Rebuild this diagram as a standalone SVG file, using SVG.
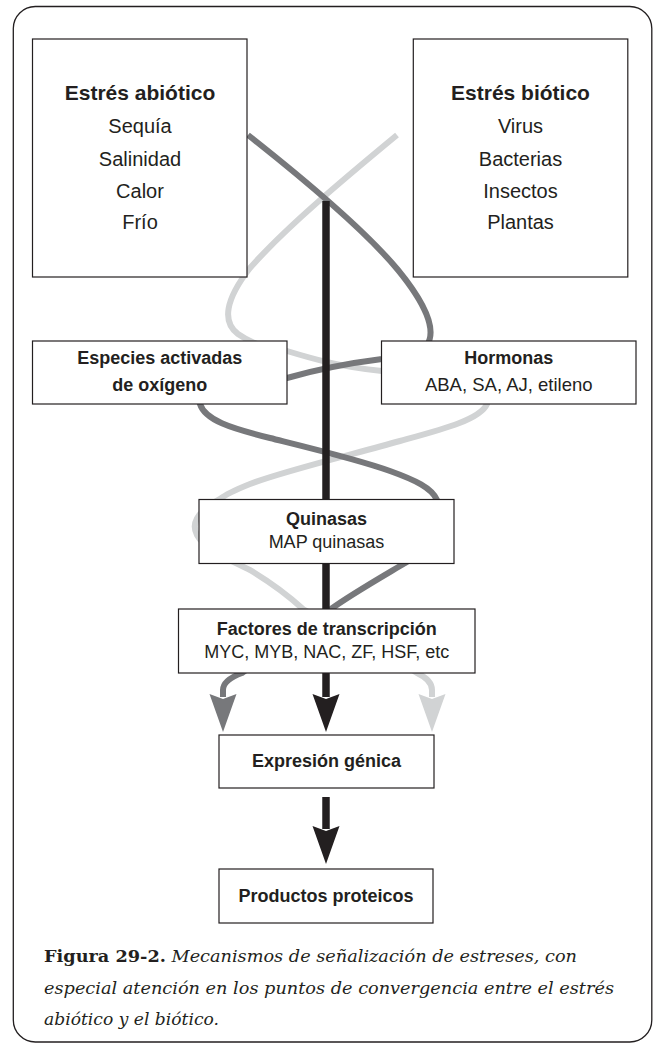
<svg xmlns="http://www.w3.org/2000/svg" width="654" height="1046" viewBox="0 0 654 1046">
  <style>
    .frame { fill: #ffffff; stroke: #231f20; stroke-width: 1.3; }
    .box { fill: #ffffff; stroke: #231f20; stroke-width: 1.2; }
    .t { font-family: "Liberation Sans", Arial, sans-serif; fill: #231f20; text-anchor: middle; }
    .b { font-weight: bold; }
    .abio { fill: none; stroke: #77787b; stroke-width: 6; }
    .bio { fill: none; stroke: #d1d3d4; stroke-width: 6; }
    .core { fill: none; stroke: #231f20; stroke-width: 7.5; }
    .cap { font-family: "DejaVu Serif", "Liberation Serif", serif; fill: #231f20; font-size: 17px; }
  </style>

  <!-- outer rounded frame -->
  <rect class="frame" x="13.3" y="6.5" width="638.5" height="1035.5" rx="22" ry="22"/>

  <!-- signalling paths (drawn beneath the boxes) -->
  <g id="connectors">
    <!-- biotic pathway, light grey -->
    <path id="path-biotic" class="bio" d="M397,135 C345,178 285,228 250,268 C225,300 222,322 238,334 C255,346 270,348 287,351 C310,358 340,367 382,371 C430,376 490,385 487,404 C480,420 440,430 400,441 C350,455 280,472 250,484 C235,490 225,495 220,499 C200,510 190,522 197,535 C205,550 230,560 250,570 C270,582 290,597 303,609 C340,630 390,655 417,673 Q432,680 432,690 L432,697"/>
    <!-- abiotic pathway, dark grey -->
    <path id="path-abiotic" class="abio" d="M248,135 C300,176 365,230 398,270 C425,303 437,330 427,345 C415,355 395,357 382,359 C350,363 315,370 287,378 C250,385 205,390 200,404 C205,420 230,428 270,438 C310,448 360,460 390,471 C415,480 432,488 437,500 C445,520 430,550 405,563 C385,575 350,595 331,609 C300,630 260,660 242,673 Q223,680 223,690 L223,697"/>
    <!-- shared core pathway, black -->
    <path id="path-core" class="core" d="M326,201 L326,697"/>
    <path id="path-core-2" class="core" d="M326,797 L326,829"/>
    <!-- arrowheads -->
    <polygon fill="#77787b" points="209.5,694 223,699 236.5,694 223,732"/>
    <polygon fill="#231f20" points="312.5,694 326,699 339.5,694 326,732"/>
    <polygon fill="#d1d3d4" points="418.5,694 432,699 445.5,694 432,732"/>
    <polygon fill="#231f20" points="312.5,826 326,831 339.5,826 326,864"/>
  </g>

  <g id="node-abiotic">
    <rect class="box" x="32.5" y="39" width="214.5" height="238"/>
    <text class="t b" x="140" y="100" font-size="21">Estrés abiótico</text>
    <text class="t" x="140" y="133" font-size="20">Sequía</text>
    <text class="t" x="140" y="166" font-size="20">Salinidad</text>
    <text class="t" x="140" y="198" font-size="20">Calor</text>
    <text class="t" x="140" y="229" font-size="20">Frío</text>
  </g>

  <g id="node-biotic">
    <rect class="box" x="413.3" y="39" width="214.5" height="238"/>
    <text class="t b" x="520.5" y="100" font-size="21">Estrés biótico</text>
    <text class="t" x="520.5" y="133" font-size="20">Virus</text>
    <text class="t" x="520.5" y="166" font-size="20">Bacterias</text>
    <text class="t" x="520.5" y="198" font-size="20">Insectos</text>
    <text class="t" x="520.5" y="229" font-size="20">Plantas</text>
  </g>

  <g id="node-ros">
    <rect class="box" x="32.5" y="341" width="254.5" height="63"/>
    <text class="t b" x="159.75" y="364.3" font-size="18">Especies activadas</text>
    <text class="t b" x="159.75" y="390.7" font-size="18">de oxígeno</text>
  </g>

  <g id="node-hormones">
    <rect class="box" x="381.5" y="341" width="254.5" height="63"/>
    <text class="t b" x="508.75" y="364.3" font-size="18">Hormonas</text>
    <text class="t" x="508.75" y="390.7" font-size="18.5">ABA, SA, AJ, etileno</text>
  </g>

  <g id="node-kinases">
    <rect class="box" x="199" y="499.5" width="255" height="64"/>
    <text class="t b" x="326.5" y="525" font-size="18">Quinasas</text>
    <text class="t" x="326.5" y="548.3" font-size="18">MAP quinasas</text>
  </g>

  <g id="node-tf">
    <rect class="box" x="178.5" y="609" width="296.5" height="64"/>
    <text class="t b" x="326.75" y="635" font-size="18">Factores de transcripción</text>
    <text class="t" x="326.75" y="658.3" font-size="18">MYC, MYB, NAC, ZF, HSF, etc</text>
  </g>

  <g id="node-expression">
    <rect class="box" x="219" y="735" width="215" height="53"/>
    <text class="t b" x="326.5" y="766.7" font-size="18">Expresión génica</text>
  </g>

  <g id="node-proteins">
    <rect class="box" x="219" y="869" width="214" height="54"/>
    <text class="t b" x="326" y="901.7" font-size="18">Productos proteicos</text>
  </g>

  <!-- figure caption -->
  <g id="caption">
    <text class="cap" x="44" y="961.7" textLength="533" lengthAdjust="spacingAndGlyphs"><tspan font-weight="bold">Figura 29-2.</tspan><tspan font-style="italic"> Mecanismos de señalización de estreses, con</tspan></text>
    <text class="cap" x="44" y="994" font-style="italic" textLength="570" lengthAdjust="spacingAndGlyphs">especial atención en los puntos de convergencia entre el estrés</text>
    <text class="cap" x="44" y="1025" font-style="italic" textLength="175" lengthAdjust="spacingAndGlyphs">abiótico y el biótico.</text>
  </g>
</svg>
